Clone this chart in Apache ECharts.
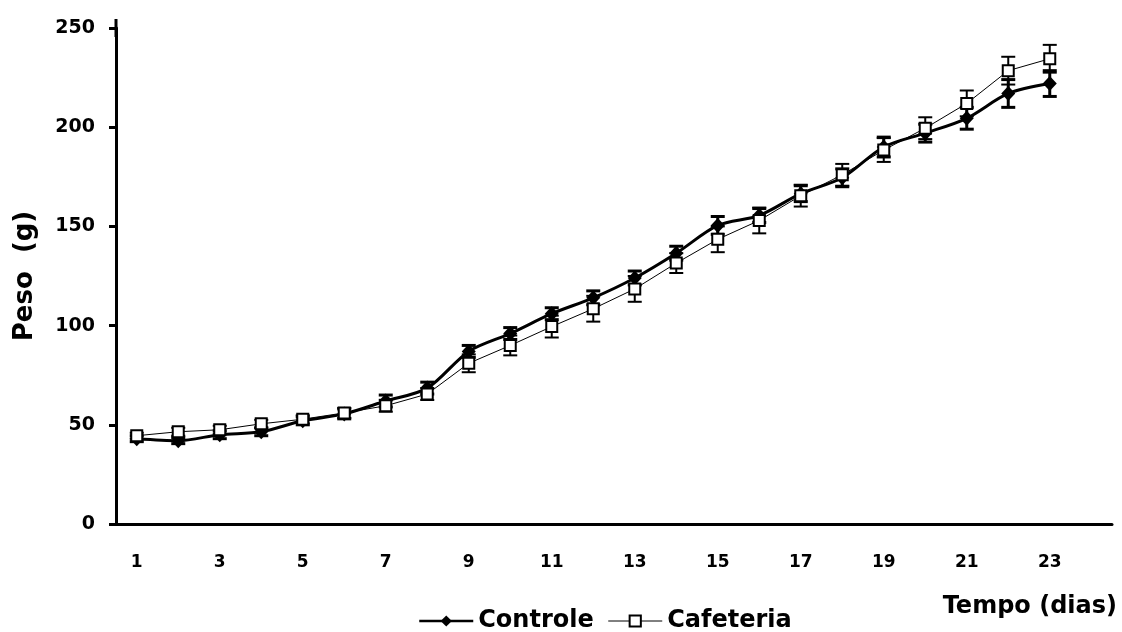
<!DOCTYPE html>
<html>
<head>
<meta charset="utf-8">
<script src="https://cdn.jsdelivr.net/npm/echarts@6/dist/echarts.min.js"></script>
<style>
  html, body { margin: 0; padding: 0; background: #fff; }
  #chart { width: 1122px; height: 632px; }
</style>
</head>
<body>
<div id="chart"></div>
<script>
// Days of the experiment (a 24th empty slot closes the axis)
const days = ['1','2','3','4','5','6','7','8','9','10','11','12','13','14','15','16','17','18','19','20','21','22','23','24'];

// Mean body weight (g) per day
const controle = [43, 42, 45, 46.5, 52, 55.5, 62, 68.5, 87, 96, 106, 114, 124, 136.5, 150.5, 155.5, 166.5, 174.5, 190, 197, 204.5, 217, 222];
const cafeteria = [44.5, 46.5, 47.5, 50.5, 52.8, 56, 59.6, 65.5, 81, 90, 99.5, 108.5, 118.5, 131.5, 143.5, 153, 165.5, 176, 188.5, 199.5, 212, 228.5, 234.5];

// Standard error of the mean (g)
const controleErr = [1.5, 1.5, 2, 2, 2, 2.5, 3, 3, 3, 3, 3, 3.5, 3.5, 3.5, 4.5, 3.5, 4, 4.5, 5, 4.5, 5.5, 7, 6.5];
const cafeteriaErr = [1.5, 2, 2, 2, 2, 2.5, 3, 3, 4.5, 5, 5.5, 6.5, 6.5, 5, 6.5, 6.5, 5.5, 5.5, 6, 5.5, 6.5, 7, 7];

const yTicks = { min: 0, max: 250, step: 50 };

const FONT = 'DejaVu Sans';

function errRange(means, errs) {
  return means.map((m, i) => [i, m - errs[i], m + errs[i]]);
}

// Vertical whisker with a cap at each end, placed through the grid's scales
function errorBars(lineWidth, capHalf) {
  return function (params, api) {
    const x = api.value(0);
    const lo = api.coord([x, api.value(1)]);
    const hi = api.coord([x, api.value(2)]);
    const style = { stroke: '#000', lineWidth: lineWidth, fill: null };
    return {
      type: 'group',
      children: [
        { type: 'line', shape: { x1: lo[0], y1: lo[1], x2: hi[0], y2: hi[1] }, style: style },
        { type: 'line', shape: { x1: lo[0] - capHalf, y1: lo[1], x2: lo[0] + capHalf, y2: lo[1] }, style: style },
        { type: 'line', shape: { x1: hi[0] - capHalf, y1: hi[1], x2: hi[0] + capHalf, y2: hi[1] }, style: style }
      ]
    };
  };
}

const chart = echarts.init(document.getElementById('chart'), null, { renderer: 'canvas' });

chart.setOption({
  animation: false,
  backgroundColor: '#fff',
  textStyle: { fontFamily: FONT, fontWeight: 'bold', color: '#000' },
  title: {
    text: 'Tempo (dias)',
    right: 5,
    top: 595,
    padding: 0,
    textStyle: { fontFamily: FONT, fontWeight: 'bold', fontSize: 24, color: '#000' }
  },
  legend: {
    data: [
      { name: 'Controle', lineStyle: { width: 2.5 } },
      { name: 'Cafeteria', lineStyle: { width: 1 } }
    ],
    left: 418,
    top: 609,
    padding: 0,
    itemGap: 14,
    itemWidth: 54,
    itemHeight: 14,
    textStyle: { fontFamily: FONT, fontWeight: 'bold', fontSize: 24, color: '#000' }
  },
  grid: { left: 116, right: 10, top: 28, bottom: 108 },
  xAxis: {
    type: 'category',
    data: days,
    boundaryGap: true,
    axisLine: { lineStyle: { color: '#000', width: 3 } },
    axisTick: { interval: 0, length: 6, lineStyle: { color: '#000', width: 3 } },
    axisLabel: { interval: 1, margin: 30, fontFamily: FONT, fontWeight: 'bold', fontSize: 17, color: '#000' },
    splitLine: { show: false }
  },
  yAxis: {
    type: 'value',
    min: yTicks.min,
    max: yTicks.max,
    interval: yTicks.step,
    name: 'Peso  (g)',
    nameLocation: 'middle',
    nameRotate: 90,
    nameGap: 78,
    nameTextStyle: { fontFamily: FONT, fontWeight: 'bold', fontSize: 26, color: '#000' },
    axisLine: {
      show: true,
      symbol: ['none', 'rect'],
      symbolSize: [3, 18],
      lineStyle: { color: '#000', width: 3 }
    },
    axisTick: { show: true, length: 7, lineStyle: { color: '#000', width: 3 } },
    axisLabel: { margin: 21, fontFamily: FONT, fontWeight: 'bold', fontSize: 19, color: '#000' },
    splitLine: { show: false }
  },
  series: [
    {
      name: 'Controle-sem',
      type: 'custom',
      data: errRange(controle, controleErr),
      renderItem: errorBars(3, 7),
      encode: { x: 0, y: [1, 2] },
      z: 2,
      silent: true
    },
    {
      name: 'Controle',
      type: 'line',
      data: controle,
      smooth: 0.3,
      symbol: 'diamond',
      symbolSize: [14, 15],
      showAllSymbol: true,
      lineStyle: { color: '#000', width: 3 },
      itemStyle: { color: '#000', borderColor: '#000', borderWidth: 0 },
      z: 3
    },
    {
      name: 'Cafeteria-sem',
      type: 'custom',
      data: errRange(cafeteria, cafeteriaErr),
      renderItem: errorBars(2, 7),
      encode: { x: 0, y: [1, 2] },
      z: 4,
      silent: true
    },
    {
      name: 'Cafeteria',
      type: 'line',
      data: cafeteria,
      smooth: false,
      symbol: 'rect',
      symbolSize: 11,
      showAllSymbol: true,
      lineStyle: { color: '#000', width: 1 },
      itemStyle: { color: '#fff', borderColor: '#000', borderWidth: 2 },
      z: 5
    }
  ]
});
</script>
</body>
</html>
